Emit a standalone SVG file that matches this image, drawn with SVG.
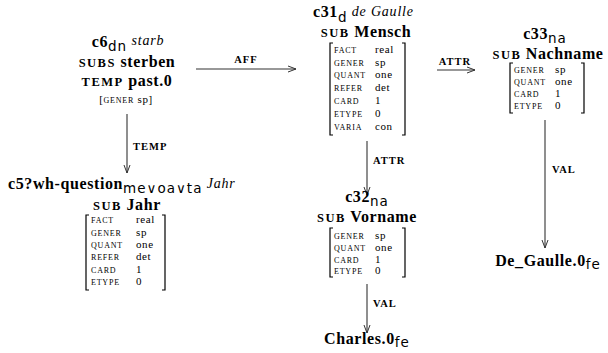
<svg xmlns="http://www.w3.org/2000/svg" width="608" height="353" viewBox="0 0 608 353">
<style>
text{font-family:"Liberation Serif","DejaVu Serif",serif;fill:#000}
.b{font-weight:bold;font-size:16px;letter-spacing:0.6px}
.sc{font-weight:bold;font-size:12.5px;letter-spacing:1.5px}
.sub{font-family:"DejaVu Sans","Liberation Sans",sans-serif;font-size:13.5px;letter-spacing:1px}
.it{font-style:italic;font-size:14px;letter-spacing:0.8px}
.k{font-size:8px;letter-spacing:0.8px}
.v{font-size:11px;letter-spacing:0.6px}
.lab{font-weight:bold;font-size:10.5px;letter-spacing:1px}
.br{fill:none;stroke:#000;stroke-width:1.2}
.ed{fill:none;stroke:#333;stroke-width:1.1}
</style>
<defs>
<marker id="ah" viewBox="0 0 8 8" refX="8" refY="4" markerWidth="8" markerHeight="8" markerUnits="userSpaceOnUse" orient="auto">
<path d="M0,1 L8,4 L0,7" fill="none" stroke="#333" stroke-width="1"/>
</marker>
</defs>
<g id="connectors">
<line class="ed" x1="127" y1="114" x2="127" y2="173" marker-end="url(#ah)"/>
<text class="lab" x="133" y="150">TEMP</text>
<line class="ed" x1="196" y1="69" x2="296" y2="69" marker-end="url(#ah)"/>
<text class="lab" x="246" y="63" text-anchor="middle">AFF</text>
<line class="ed" x1="437" y1="70" x2="475" y2="70" marker-end="url(#ah)"/>
<text class="lab" x="455" y="65" text-anchor="middle">ATTR</text>
<line class="ed" x1="367" y1="141" x2="367" y2="195" marker-end="url(#ah)"/>
<text class="lab" x="373" y="164">ATTR</text>
<line class="ed" x1="545" y1="120" x2="545" y2="248" marker-end="url(#ah)"/>
<text class="lab" x="552" y="173">VAL</text>
<line class="ed" x1="367" y1="284" x2="367" y2="333" marker-end="url(#ah)"/>
<text class="lab" x="373" y="307">VAL</text>
</g>
<g id="c6">
<text x="128" y="47" text-anchor="middle"><tspan class="b">c6</tspan><tspan class="sub" dy="4">dn</tspan><tspan class="it" dy="-6"> starb</tspan></text>
<text x="127" y="67" text-anchor="middle"><tspan class="sc">SUBS</tspan><tspan class="b"> sterben</tspan></text>
<text x="127" y="86" text-anchor="middle"><tspan class="sc">TEMP</tspan><tspan class="b"> past.0</tspan></text>
<text x="126" y="103" text-anchor="middle"><tspan class="v">[</tspan><tspan class="k">GENER</tspan><tspan class="v"> sp]</tspan></text>
</g>
<g id="c5">
<text x="8" y="189"><tspan class="b">c5?wh-question</tspan><tspan class="sub" dy="4">me∨oa∨ta</tspan><tspan class="it" dy="-5"> Jahr</tspan></text>
<text x="127" y="210" text-anchor="middle"><tspan class="sc">SUB</tspan><tspan class="b"> Jahr</tspan></text>
<path class="br" d="M89,215 H86 V290 H89 M162,215 H165 V290 H162"/>
<text class="k" x="91" y="223">FACT</text><text class="v" x="136" y="223">real</text>
<text class="k" x="91" y="235.5">GENER</text><text class="v" x="136" y="235.5">sp</text>
<text class="k" x="91" y="248">QUANT</text><text class="v" x="136" y="248">one</text>
<text class="k" x="91" y="260">REFER</text><text class="v" x="136" y="260">det</text>
<text class="k" x="91" y="272.5">CARD</text><text class="v" x="136" y="272.5">1</text>
<text class="k" x="91" y="285">ETYPE</text><text class="v" x="136" y="285">0</text>
</g>
<g id="c31">
<text x="313" y="17"><tspan class="b">c31</tspan><tspan class="sub" dy="5">d</tspan><tspan class="it" dy="-6"> de Gaulle</tspan></text>
<text x="366" y="37" text-anchor="middle"><tspan class="sc">SUB</tspan><tspan class="b"> Mensch</tspan></text>
<path class="br" d="M333,43 H330 V135 H333 M402,43 H405 V135 H402"/>
<text class="k" x="334" y="53">FACT</text><text class="v" x="375" y="53">real</text>
<text class="k" x="334" y="65.5">GENER</text><text class="v" x="375" y="65.5">sp</text>
<text class="k" x="334" y="78">QUANT</text><text class="v" x="375" y="78">one</text>
<text class="k" x="334" y="91">REFER</text><text class="v" x="375" y="91">det</text>
<text class="k" x="334" y="104">CARD</text><text class="v" x="375" y="104">1</text>
<text class="k" x="334" y="117">ETYPE</text><text class="v" x="375" y="117">0</text>
<text class="k" x="334" y="130">VARIA</text><text class="v" x="375" y="130">con</text>
</g>
<g id="c32">
<text x="367" y="202" text-anchor="middle"><tspan class="b">c32</tspan><tspan class="sub" dy="4">na</tspan></text>
<text x="367" y="222" text-anchor="middle"><tspan class="sc">SUB</tspan><tspan class="b"> Vorname</tspan></text>
<path class="br" d="M333,228 H330 V277 H333 M402,228 H405 V277 H402"/>
<text class="k" x="334" y="239">GENER</text><text class="v" x="375" y="239">sp</text>
<text class="k" x="334" y="251">QUANT</text><text class="v" x="375" y="251">one</text>
<text class="k" x="334" y="263">CARD</text><text class="v" x="375" y="263">1</text>
<text class="k" x="334" y="274">ETYPE</text><text class="v" x="375" y="274">0</text>
</g>
<g id="c33">
<text x="545" y="39" text-anchor="middle"><tspan class="b">c33</tspan><tspan class="sub" dy="4">na</tspan></text>
<text x="548" y="59" text-anchor="middle"><tspan class="sc">SUB</tspan><tspan class="b"> Nachname</tspan></text>
<path class="br" d="M513,63 H510 V113 H513 M581,63 H584 V113 H581"/>
<text class="k" x="514" y="73">GENER</text><text class="v" x="555" y="73">sp</text>
<text class="k" x="514" y="85">QUANT</text><text class="v" x="555" y="85">one</text>
<text class="k" x="514" y="97">CARD</text><text class="v" x="555" y="97">1</text>
<text class="k" x="514" y="109">ETYPE</text><text class="v" x="555" y="109">0</text>
</g>
<g id="degaulle">
<text x="548" y="266" text-anchor="middle"><tspan class="b">De_Gaulle.0</tspan><tspan class="sub" dy="3">fe</tspan></text>
</g>
<g id="charles">
<text x="367" y="344" text-anchor="middle"><tspan class="b">Charles.0</tspan><tspan class="sub" dy="3">fe</tspan></text>
</g>
</svg>
